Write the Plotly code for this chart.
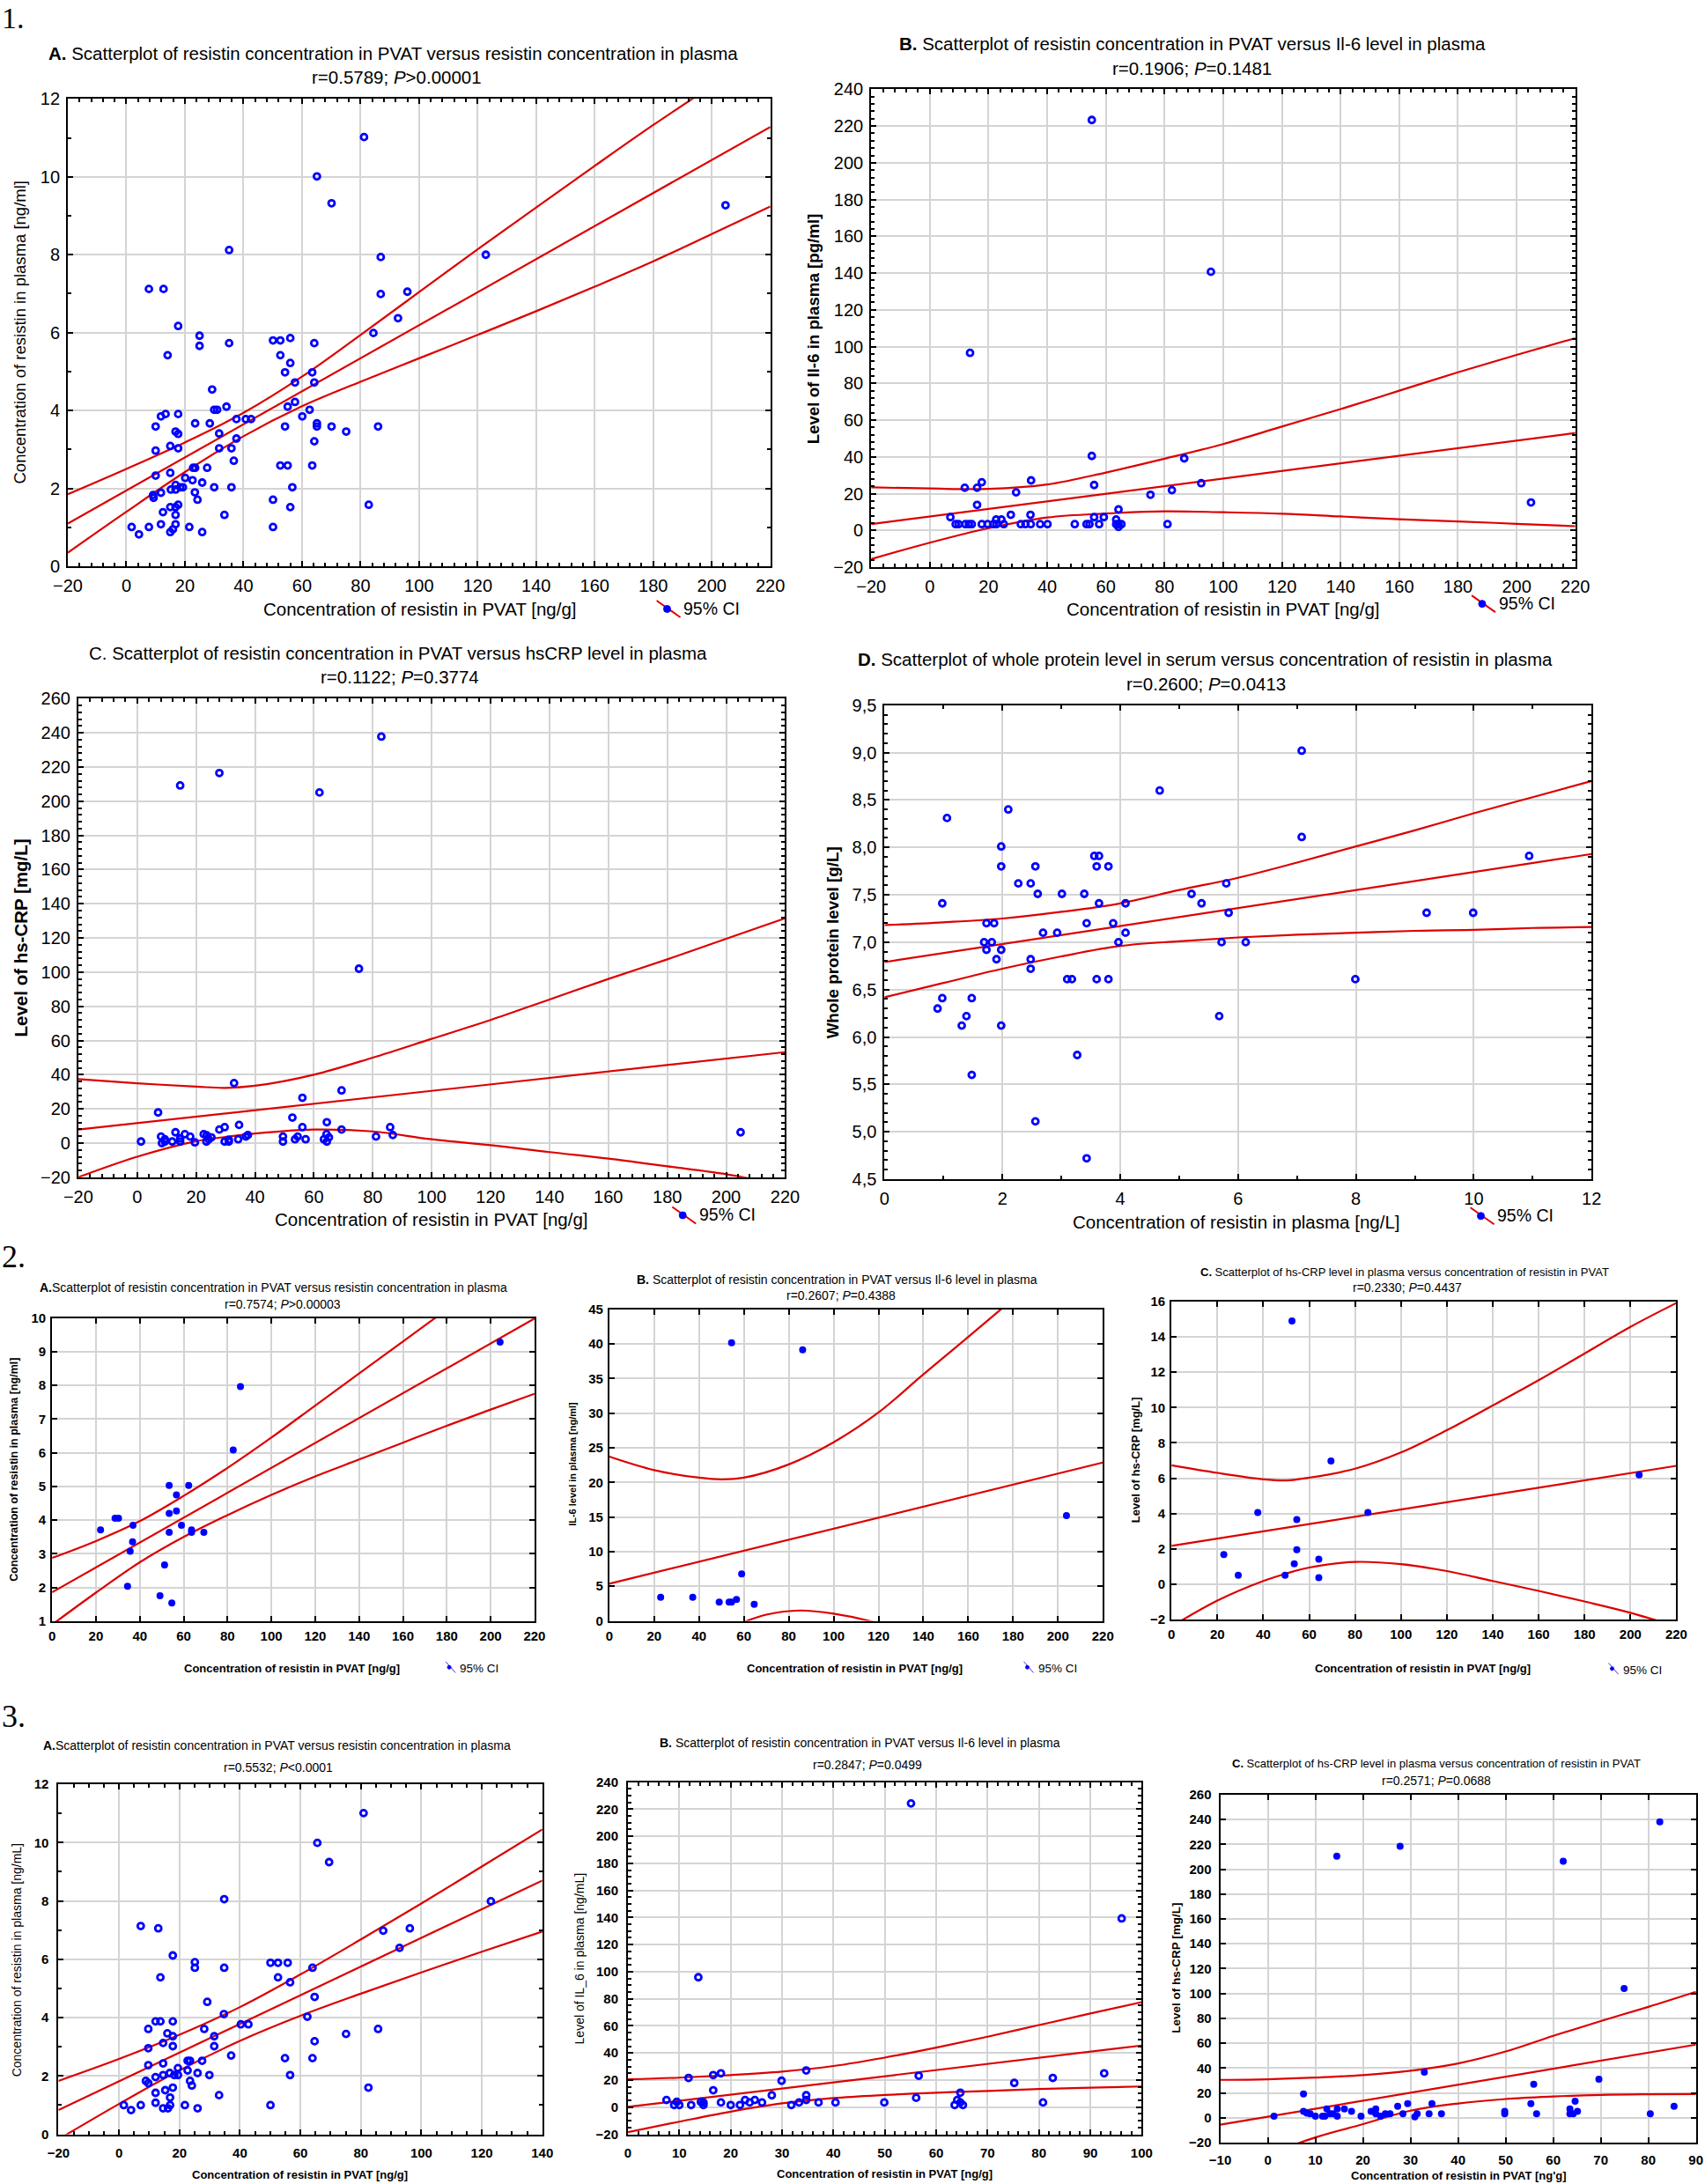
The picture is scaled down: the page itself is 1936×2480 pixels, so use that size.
import plotly.graph_objects as go

# ======================= DATA =======================
# ---- Figure 1A: resistin PVAT vs resistin plasma ----
p1a_x = [7.7,12.7,35.1,17.7,25.0,25.0,35.1,14.1,29.3,30.0,31.0,34.2,13.4,11.8,17.7,10.0,23.5,28.5,37.6,40.8,
         42.6,16.8,17.7,31.7,37.6,10.0,15.0,17.7,31.7,35.9,36.7,22.8,23.5,27.6,10.0,15.0,20.1,22.6,25.9,16.8,
         18.4,19.3,15.2,16.8,30.0,35.9,23.4,9.1,9.3,11.8,24.3,16.8,17.7,15.0,12.5,16.8,33.5,1.8,7.7,11.8,
         21.5,16.8,15.9,15.0,4.3,25.9,50.1,52.6,56.0,52.6,56.0,54.2,63.5,57.6,64.2,64.2,55.1,57.6,62.6,60.1,
         54.2,65.1,65.1,70.1,75.1,86.0,64.2,52.6,55.1,63.5,56.7,50.1,56.0,50.1,82.8,81.2,65.1,70.1,86.9,86.9,
         96.0,92.8,84.4,122.8,204.7]
p1a_y = [7.12,7.12,8.12,6.17,5.92,5.66,5.73,5.42,4.54,4.02,4.02,4.10,3.91,3.85,3.91,3.59,3.67,3.67,3.78,3.78,
         3.78,3.46,3.40,3.41,3.28,2.97,3.09,3.03,3.03,3.03,2.71,2.53,2.53,2.53,2.33,2.40,2.27,2.21,2.15,2.09,
         2.03,2.03,1.97,1.97,2.03,2.03,1.90,1.83,1.76,1.89,1.71,1.52,1.58,1.52,1.39,1.32,1.32,1.01,1.01,1.08,
         1.01,1.08,0.95,0.88,0.82,0.88,5.80,5.80,5.86,5.42,5.22,4.98,4.98,4.72,4.72,5.73,4.10,4.22,4.02,3.85,
         3.59,3.67,3.59,3.59,3.46,3.59,3.21,2.59,2.59,2.59,2.03,1.71,1.52,1.01,1.58,11.02,10.01,9.32,7.94,6.99,
         7.05,6.37,5.99,8.00,9.27]
p1a_fit_x = [-20, 220]
p1a_fit_y = [1.10, 11.28]
p1a_band_x = [-20, 0, 20, 40, 60, 80, 100, 120, 140, 160, 180, 200, 220]
p1a_upper = [1.85, 2.50, 3.18, 3.94, 4.87, 5.94, 7.04, 8.14, 9.21, 10.28, 11.33, 12.33, 13.32]
p1a_lower = [0.35, 1.40, 2.42, 3.34, 4.11, 4.74, 5.34, 5.94, 6.55, 7.18, 7.83, 8.53, 9.24]

# ---- Figure 1B: resistin PVAT vs IL-6 ----
p1b_x = [55.2,95.8,13.7,55.2,86.7,34.5,17.7,11.9,16.1,56.0,92.5,29.4,75.2,82.5,16.1,204.9,64.3,7.0,27.6,34.3,
         56.0,59.3,22.6,24.4,63.5,
         8.8,9.8,12.1,13.3,14.3,17.7,19.7,21.7,22.7,25.2,31.0,32.6,34.4,37.6,40.1,49.4,53.4,54.4,57.7,63.5,
         64.3,65.3,81.0,64.3]
p1b_y = [223.3,140.7,96.6,40.5,39.2,27.2,26.2,23.2,23.2,24.7,25.7,20.7,19.4,21.9,13.9,15.2,11.4,7.2,8.5,8.5,
         7.2,7.2,5.9,5.9,5.9,
         3.4,3.4,3.4,3.4,3.4,3.4,3.4,3.4,3.4,3.4,3.4,3.4,3.4,3.4,3.4,3.4,3.4,3.4,3.4,3.4,
         3.4,3.4,3.4,1.9]
p1b_fit_x = [-20, 220]
p1b_fit_y = [3.4, 53.0]
p1b_band_x = [-20, 0, 20, 40, 60, 80, 100, 120, 140, 160, 180, 200, 220]
p1b_upper = [23.4, 22.8, 22.6, 25.0, 31.5, 39.0, 47.0, 56.5, 66.0, 76.0, 86.0, 95.5, 104.6]
p1b_lower = [-15.6, -6.7, 1.2, 7.0, 9.2, 10.4, 9.9, 9.1, 7.6, 6.1, 4.9, 3.6, 2.3]

# ---- Figure 1C: resistin PVAT vs hs-CRP ----
p1c_x = [82.9,27.9,14.6,61.9,75.3,32.9,69.4,56.1,7.1,52.7,64.4,34.6,29.7,56.1,85.9,27.9,69.4,13.0,16.2,204.9,
         86.8,22.6,37.6,8.1,18.0,49.5,81.1,54.5,64.3,23.6,36.9,9.4,14.6,24.3,25.2,34.3,53.6,57.2,63.4,65.1,
         1.3,9.4,11.9,14.6,19.6,23.5,29.7,31.1,49.5,64.4,8.4,31.1]
p1c_y = [237.8,216.5,209.2,205.1,102.0,35.1,30.8,26.5,17.9,14.9,12.2,10.6,9.3,9.3,9.3,7.9,7.9,6.3,5.2,6.3,
         4.7,5.2,4.7,3.8,3.8,3.8,3.8,3.8,5.2,4.5,3.8,2.2,2.7,2.2,3.3,2.2,2.2,2.2,2.2,3.3,
         0.9,0.9,0.9,0.9,0.4,0.9,0.9,0.9,0.9,0.9,0.0,1.9]
p1c_fit_x = [-20, 220]
p1c_fit_y = [7.9, 53.2]
p1c_band_x = [-20, 0, 20, 30, 40, 60, 80, 100, 120, 140, 160, 180, 200, 220]
p1c_upper = [37.4, 35.0, 33.0, 32.3, 33.5, 40.0, 50.0, 61.0, 72.0, 84.0, 96.0, 107.5, 119.5, 131.5]
p1c_lower = [-20.0, -8.0, 1.1, 3.6, 5.6, 7.9, 6.8, 2.2, -1.2, -5.3, -9.1, -13.6, -18.2, -25.0]

# ---- Figure 1D: resistin plasma vs whole protein ----
p1d_x = [7.08,4.67,2.10,1.06,7.08,1.98,3.56,3.64,10.94,1.98,2.56,3.60,3.80,2.27,2.48,5.80,2.60,3.01,3.39,5.21,
         0.98,3.64,4.09,5.38,5.84,9.20,9.99,1.73,1.86,3.43,3.88,2.69,2.93,4.09,1.69,1.82,3.97,5.72,6.13,1.73,
         1.98,1.90,2.48,2.48,3.10,3.18,3.60,3.80,7.99,0.98,1.48,0.90,1.39,5.68,1.31,1.98,3.27,1.48,2.56,3.43]
p1d_y = [9.02,8.60,8.40,8.31,8.11,8.01,7.91,7.91,7.91,7.80,7.80,7.80,7.80,7.62,7.62,7.62,7.51,7.51,7.51,7.51,
         7.41,7.41,7.41,7.41,7.31,7.31,7.31,7.20,7.20,7.20,7.20,7.10,7.10,7.10,7.00,7.00,7.00,7.00,7.00,6.92,
         6.92,6.82,6.82,6.72,6.61,6.61,6.61,6.61,6.61,6.41,6.41,6.30,6.22,6.22,6.12,6.12,5.81,5.60,5.11,4.72]
p1d_fit_x = [0, 12]
p1d_fit_y = [6.79, 7.93]
p1d_band_x = [0, 1, 2, 3, 4, 5, 6, 7, 8, 9, 10, 11, 12]
p1d_upper = [7.18, 7.21, 7.25, 7.32, 7.41, 7.55, 7.68, 7.84, 8.01, 8.18, 8.36, 8.53, 8.70]
p1d_lower = [6.42, 6.57, 6.72, 6.85, 6.96, 7.01, 7.05, 7.08, 7.10, 7.12, 7.13, 7.15, 7.16]

# ---- Figure 2A ----
p2a_x = [22.1,28.7,30.3,36.9,36.7,35.6,34.4,49.2,51.3,54.6,53.4,62.3,56.7,53.4,56.7,53.4,59.0,63.6,63.6,69.2,
         82.6,85.9,204.3]
p2a_y = [3.71,4.06,4.06,3.85,3.36,3.08,2.04,1.76,2.67,1.54,5.03,5.03,4.75,4.20,4.27,3.64,3.85,3.71,3.64,3.64,
         6.08,7.96,9.28]
p2a_fit_x = [0, 220]
p2a_fit_y = [1.86, 9.98]
p2a_band_x = [0, 20, 40, 60, 80, 100, 120, 140, 160, 180, 200, 220]
p2a_upper = [2.88, 3.38, 3.97, 4.72, 5.55, 6.45, 7.40, 8.35, 9.30, 10.25, 11.20, 12.20]
p2a_lower = [0.90, 1.85, 2.75, 3.50, 4.15, 4.75, 5.30, 5.80, 6.30, 6.80, 7.28, 7.75]

# ---- Figure 2B ----
p2b_x = [54.5,86.2,203.8,59.0,22.9,37.2,49.0,53.4,54.5,56.7,64.6]
p2b_y = [40.18,39.16,15.21,6.78,3.41,3.41,2.72,2.72,2.72,3.09,2.40]
p2b_fit_x = [0, 220]
p2b_fit_y = [5.36, 22.87]
p2b_up_x = [0, 20, 40, 50, 60, 80, 100, 120, 140, 160, 180, 200, 220]
p2b_upper = [23.72, 21.77, 20.68, 20.44, 20.68, 22.6, 25.8, 30.1, 35.6, 41.0, 46.5, 52.0, 57.5]
p2b_lo_x = [0, 20, 40, 50, 61.4, 70, 85, 100, 115.8, 140, 180, 220]
p2b_lower = [-13.0, -7.9, -3.6, -1.6, 0.0, 0.9, 1.5, 1.05, 0.0, -2.6, -9.0, -16.0]

# ---- Figure 2C ----
p2c_x = [52.5,69.5,203.8,37.6,85.6,54.6,54.6,22.8,64.2,53.5,29.1,49.5,64.2]
p2c_y = [14.9,6.97,6.19,4.06,4.06,3.66,1.95,1.68,1.42,1.15,0.50,0.50,0.37]
p2c_fit_x = [0, 220]
p2c_fit_y = [2.17, 6.70]
p2c_band_x = [0, 20, 40, 50, 60, 80, 100, 120, 140, 160, 180, 200, 220]
p2c_upper = [6.73, 6.30, 5.94, 5.87, 6.03, 6.54, 7.46, 8.72, 10.12, 11.55, 13.06, 14.57, 15.92]
p2c_lower = [-2.4, -0.93, 0.18, 0.6, 0.94, 1.26, 1.13, 0.74, 0.18, -0.38, -0.98, -1.62, -2.4]

# ---- Figure 3A ----
p3a_x = [7.2,13.0,34.8,17.8,25.1,25.1,34.8,13.7,29.2,34.7,12.1,13.7,17.8,9.7,16.0,17.8,28.2,31.5,40.3,42.8,
         14.6,17.8,9.7,31.5,37.1,14.6,9.7,22.7,23.5,27.5,19.5,22.7,26.0,29.9,14.6,16.8,18.3,19.5,12.1,8.9,
         9.7,23.5,24.1,15.3,17.8,12.1,16.9,33.1,1.6,7.2,12.1,16.9,21.8,14.6,16.2,26.0,4.0,50.1,52.6,55.8,
         52.6,56.6,64.0,64.7,62.3,64.7,54.9,64.0,56.6,50.1,75.1,85.7,82.5,80.9,65.6,69.5,87.4,96.2,92.8,123.0]
p3a_y = [7.14,7.06,8.06,6.13,5.90,5.71,5.71,5.38,4.54,4.12,3.87,3.87,3.87,3.61,3.46,3.36,3.61,3.36,3.77,3.77,
         3.13,3.02,2.95,3.02,2.70,2.43,2.37,2.52,2.52,2.52,2.27,2.19,2.10,2.03,2.03,2.10,2.03,2.03,1.96,1.83,
         1.75,1.83,1.67,1.51,1.60,1.42,1.26,1.34,1.00,1.00,1.08,1.00,1.00,0.89,0.89,0.89,0.83,5.88,5.88,5.88,
         5.38,5.21,5.71,4.71,4.03,3.19,2.61,2.61,2.03,1.00,3.44,3.61,1.60,11.01,9.99,9.33,6.98,7.06,6.39,7.99]
p3a_fit_x = [-20, 140]
p3a_fit_y = [0.83, 8.70]
p3a_band_x = [-20, 0, 20, 40, 60, 80, 100, 120, 140]
p3a_upper = [1.83, 2.58, 3.41, 4.36, 5.48, 6.68, 7.91, 9.18, 10.45]
p3a_lower = [-0.17, 1.04, 2.19, 3.20, 4.06, 4.82, 5.55, 6.26, 6.95]

# ---- Figure 3B ----
p3b_x = [55.1,96.1,13.7,34.7,92.7,18.1,16.6,56.6,11.8,82.7,29.9,75.2,16.6,64.7,28.0,34.7,56.1,7.5,22.8,24.7,
         34.7,64.1,9.5,14.2,14.7,18.1,23.7,26.1,33.3,37.1,40.4,49.9,80.8,64.7,9.0,10.0,12.3,14.7,20.0,21.8,
         31.8,63.6,65.2]
p3b_y = [224.2,139.3,95.9,27.1,25.0,25.0,23.7,23.2,21.6,21.6,19.5,17.9,12.5,10.7,8.8,8.8,6.9,5.3,5.3,5.3,
         5.3,5.3,3.9,3.9,3.5,3.5,3.5,3.5,3.5,3.5,3.5,3.5,3.5,3.5,1.6,1.6,1.6,1.6,1.6,1.6,
         1.6,1.6,1.6]
p3b_fit_x = [0, 100]
p3b_fit_y = [0.2, 45.5]
p3b_band_x = [0, 10, 20, 30, 40, 50, 60, 70, 80, 90, 100]
p3b_upper = [20.6, 21.8, 23.7, 26.3, 30.4, 36.6, 44.0, 52.0, 60.6, 69.2, 77.5]
p3b_lower = [-18.4, -10.7, -3.3, 2.8, 6.7, 9.0, 10.7, 12.0, 13.4, 14.4, 15.3]

# ---- Figure 3C ----
p3c_x = [82.4,27.8,14.5,62.1,74.9,32.9,69.6,55.9,7.5,55.3,29.4,34.5,64.6,85.4,27.3,12.4,14.6,22.7,16.1,63.5,
         7.5,17.6,21.7,49.8,65.1,8.2,8.9,13.1,13.7,22.7,24.7,25.7,28.4,31.4,33.9,36.5,49.8,56.5,63.5,64.2,
         80.4,1.3,10.0,11.5,12.0,14.6,19.6,23.7,30.9]
p3c_y = [238.0,218.5,210.4,206.4,104.0,36.7,31.1,27.1,19.2,11.4,11.4,11.4,13.4,9.4,9.4,7.3,7.3,7.3,7.3,7.3,
         5.3,5.3,5.3,5.3,5.3,3.8,3.3,3.3,3.3,3.3,3.3,3.3,3.3,3.3,3.3,3.3,3.3,3.3,3.3,3.3,
         3.3,1.3,1.3,1.3,1.3,1.3,1.3,1.3,0.8]
p3c_fit_x = [-10, 90]
p3c_fit_y = [-5.5, 58.9]
p3c_band_x = [-10, 0, 10, 20, 30, 40, 50, 60, 70, 80, 90]
p3c_upper = [30.6, 31.1, 32.4, 34.4, 37.9, 43.8, 53.4, 66.0, 77.9, 89.3, 101.4]
p3c_lower = [-41.6, -29.2, -15.7, -5.0, 5.8, 11.6, 15.2, 17.2, 18.5, 19.0, 19.2]

# tick labels for panel 1D (comma decimals)
p1d_yticks = [4.5, 5.0, 5.5, 6.0, 6.5, 7.0, 7.5, 8.0, 8.5, 9.0, 9.5]
p1d_yticktext = ["4,5", "5,0", "5,5", "6,0", "6,5", "7,0", "7,5", "8,0", "8,5", "9,0", "9,5"]

for a, b in [(p1a_x, p1a_y), (p1b_x, p1b_y), (p1c_x, p1c_y), (p1d_x, p1d_y), (p2a_x, p2a_y),
             (p2b_x, p2b_y), (p2c_x, p2c_y), (p3a_x, p3a_y), (p3b_x, p3b_y), (p3c_x, p3c_y)]:
    assert len(a) == len(b)

# ======================= LAYOUT HELPERS =======================
W, H = 1936, 2480
SW, SH = 1224, 1568          # layout measured in the 1224x1568 preview
SANS = "Liberation Sans, Arial, sans-serif"
SERIF = "Liberation Serif, Times New Roman, serif"
BLUE = "#0000ff"
RED = "#dc0000"
GRID = "#d4d4d4"

def fx(x):
    return x / SW

def fy(y):
    return 1 - y / SH

fig = go.Figure()
annotations = []
shapes = []

def ann(text, x, y, size, family=SANS, xanchor="center", yanchor="middle", angle=0, weight="normal"):
    annotations.append(dict(text=text, x=fx(x), y=fy(y), xref="paper", yref="paper", showarrow=False,
                            xanchor=xanchor, yanchor=yanchor, textangle=angle,
                            font=dict(family=family, size=size, color="black", weight=weight)))

panels = [
    dict(n=1, box=(48.7, 553, 71, 406.6), xr=[-20, 220], xd=20, xm=4, yr=[0, 12], yd=2, ym=1,
         x=p1a_x, y=p1a_y, fx_=p1a_fit_x, fy_=p1a_fit_y, ux=p1a_band_x, uy=p1a_upper, lx=p1a_band_x, ly=p1a_lower,
         open=True, tick=20, tickw="normal", so=3),
    dict(n=2, box=(625.4, 1130.9, 64.1, 407.2), xr=[-20, 220], xd=20, xm=4, yr=[-20, 240], yd=20, ym=4,
         x=p1b_x, y=p1b_y, fx_=p1b_fit_x, fy_=p1b_fit_y, ux=p1b_band_x, uy=p1b_upper, lx=p1b_band_x, ly=p1b_lower,
         open=True, tick=20, tickw="normal", so=3),
    dict(n=3, box=(56.2, 563.6, 501.6, 845.2), xr=[-20, 220], xd=20, xm=4, yr=[-20, 260], yd=20, ym=4,
         x=p1c_x, y=p1c_y, fx_=p1c_fit_x, fy_=p1c_fit_y, ux=p1c_band_x, uy=p1c_upper, lx=p1c_band_x, ly=p1c_lower,
         open=True, tick=20, tickw="normal", so=3),
    dict(n=4, box=(635, 1142.6, 506.3, 846.6), xr=[0, 12], xd=2, xm=1, yr=[4.5, 9.5], yd=0.5, ym=0.1,
         x=p1d_x, y=p1d_y, fx_=p1d_fit_x, fy_=p1d_fit_y, ux=p1d_band_x, uy=p1d_upper, lx=p1d_band_x, ly=p1d_lower,
         open=True, tick=20, tickw="normal", so=3, ytv=p1d_yticks, ytt=p1d_yticktext),
    dict(n=5, box=(37.4, 383.7, 946.2, 1164), xr=[0, 220], xd=20, xm=None, yr=[1, 10], yd=1, ym=None,
         x=p2a_x, y=p2a_y, fx_=p2a_fit_x, fy_=p2a_fit_y, ux=p2a_band_x, uy=p2a_upper, lx=p2a_band_x, ly=p2a_lower,
         open=False, tick=15, tickw="bold", so=2),
    dict(n=6, box=(437.4, 791.7, 940, 1163.7), xr=[0, 220], xd=20, xm=None, yr=[0, 45], yd=5, ym=None,
         x=p2b_x, y=p2b_y, fx_=p2b_fit_x, fy_=p2b_fit_y, ux=p2b_up_x, uy=p2b_upper, lx=p2b_lo_x, ly=p2b_lower,
         open=False, tick=15, tickw="bold", so=2),
    dict(n=7, box=(841, 1203.4, 934.5, 1162.7), xr=[0, 220], xd=20, xm=None, yr=[-2, 16], yd=2, ym=None,
         x=p2c_x, y=p2c_y, fx_=p2c_fit_x, fy_=p2c_fit_y, ux=p2c_band_x, uy=p2c_upper, lx=p2c_band_x, ly=p2c_lower,
         open=False, tick=15, tickw="bold", so=2),
    dict(n=8, box=(42, 389.3, 1281, 1532.3), xr=[-20, 140], xd=20, xm=5, yr=[0, 12], yd=2, ym=1,
         x=p3a_x, y=p3a_y, fx_=p3a_fit_x, fy_=p3a_fit_y, ux=p3a_band_x, uy=p3a_upper, lx=p3a_band_x, ly=p3a_lower,
         open=True, tick=15, tickw="bold", so=6),
    dict(n=9, box=(450.8, 819.6, 1279.4, 1532.3), xr=[0, 100], xd=10, xm=2, yr=[-20, 240], yd=20, ym=5,
         x=p3b_x, y=p3b_y, fx_=p3b_fit_x, fy_=p3b_fit_y, ux=p3b_band_x, uy=p3b_upper, lx=p3b_band_x, ly=p3b_lower,
         open=True, tick=15, tickw="bold", so=6),
    dict(n=10, box=(876, 1217.5, 1288.4, 1538.4), xr=[-10, 90], xd=10, xm=None, yr=[-20, 260], yd=20, ym=None,
         x=p3c_x, y=p3c_y, fx_=p3c_fit_x, fy_=p3c_fit_y, ux=p3c_band_x, uy=p3c_upper, lx=p3c_band_x, ly=p3c_lower,
         open=False, tick=15, tickw="bold", so=5),
]

layout_axes = {}
for p in panels:
    n = p["n"]
    xa = "x" if n == 1 else f"x{n}"
    ya = "y" if n == 1 else f"y{n}"
    l, r, t, b = p["box"]
    common = dict(showgrid=True, gridcolor=GRID, gridwidth=2, showline=True, linecolor="black", linewidth=2,
                  mirror="allticks", ticks="inside", ticklen=6, tickwidth=2, tickcolor="black", zeroline=False,
                  automargin=False, ticklabeloverflow="allow",
                  tickfont=dict(family=SANS, size=p["tick"], color="black", weight=p["tickw"]),
                  ticklabelstandoff=p["so"])
    xd = dict(common, domain=[fx(l), fx(r)], range=p["xr"], dtick=p["xd"], tick0=p["xr"][0], anchor=ya)
    yd = dict(common, domain=[fy(b), fy(t)], range=p["yr"], dtick=p["yd"], tick0=p["yr"][0], anchor=xa)
    if p["xm"]:
        xd["minor"] = dict(dtick=p["xm"], ticks="inside", ticklen=4, tickwidth=1.5, tickcolor="black", showgrid=False)
    if p["ym"]:
        yd["minor"] = dict(dtick=p["ym"], ticks="inside", ticklen=4, tickwidth=1.5, tickcolor="black", showgrid=False)
    if "ytv" in p:
        yd["tickmode"] = "array"
        yd["tickvals"] = p["ytv"]
        yd["ticktext"] = p["ytt"]
    layout_axes["xaxis" if n == 1 else f"xaxis{n}"] = xd
    layout_axes["yaxis" if n == 1 else f"yaxis{n}"] = yd

    # regression line and 95% CI band
    for bx, by in [(p["ux"], p["uy"]), (p["lx"], p["ly"])]:
        fig.add_trace(go.Scatter(x=bx, y=by, mode="lines", line=dict(color=RED, width=2.2, shape="spline"),
                                 xaxis=xa, yaxis=ya, showlegend=False, hoverinfo="skip"))
    fig.add_trace(go.Scatter(x=p["fx_"], y=p["fy_"], mode="lines", line=dict(color=RED, width=2.2),
                             xaxis=xa, yaxis=ya, showlegend=False, hoverinfo="skip"))
    if p["open"]:
        marker = dict(symbol="circle-open", size=7, color=BLUE, line=dict(color=BLUE, width=2.8))
    else:
        marker = dict(symbol="circle", size=8, color=BLUE, line=dict(width=0))
    fig.add_trace(go.Scatter(x=p["x"], y=p["y"], mode="markers", marker=marker,
                             xaxis=xa, yaxis=ya, showlegend=False))

# ======================= TEXT =======================
# section numbers
ann("1.", 0, 0, 34, SERIF, xanchor="left", yanchor="top")
ann("2.", 0, 902, 36, SERIF, xanchor="left")
ann("3.", 0, 1232, 36, SERIF, xanchor="left")

# panel titles
T1 = 20.5
ann("<b>A.</b> Scatterplot of resistin concentration in PVAT versus resistin concentration in plasma", 282, 38, T1)
ann("r=0.5789; <i>P</i>&gt;0.00001", 285, 55.3, T1)
ann("<b>B.</b> Scatterplot of resistin concentration in PVAT versus Il-6 level in plasma", 856, 31.3, T1)
ann("r=0.1906; <i>P</i>=0.1481", 856, 48.8, T1)
ann("C. Scatterplot of resistin concentration in PVAT versus hsCRP level in plasma", 286, 468.7, T1)
ann("r=0.1122; <i>P</i>=0.3774", 287, 486, T1)
ann("<b>D.</b> Scatterplot of whole protein level in serum versus concentration of resistin in plasma", 865, 473.5, T1)
ann("r=0.2600; <i>P</i>=0.0413", 866, 491, T1)

ann("<b>A.</b>Scatterplot of resistin concentration in PVAT versus resistin concentration in plasma", 196.4, 924.4, 14)
ann("r=0.7574; <i>P</i>&gt;0.00003", 203, 936.1, 14)
ann("<b>B.</b> Scatterplot of resistin concentration in PVAT versus Il-6 level in plasma", 601, 918.4, 14)
ann("r=0.2607; <i>P</i>=0.4388", 604, 929.9, 14)
ann("<b>C.</b> Scatterplot of hs-CRP level in plasma versus concentration of resistin in PVAT", 1008.7, 913, 13)
ann("r=0.2330; <i>P</i>=0.4437", 1010, 924.4, 14)

ann("<b>A.</b>Scatterplot of resistin concentration in PVAT versus resistin concentration in plasma", 199, 1253, 14)
ann("r=0.5532; <i>P</i>&lt;0.0001", 200, 1268.8, 14)
ann("<b>B.</b> Scatterplot of resistin concentration in PVAT versus Il-6 level in plasma", 617.4, 1251.2, 14)
ann("r=0.2847; <i>P</i>=0.0499", 623, 1267, 14)
ann("<b>C.</b> Scatterplot of hs-CRP level in plasma versus concentration of resistin in PVAT", 1031.4, 1266, 13)
ann("r=0.2571; <i>P</i>=0.0688", 1031, 1278.2, 14)

# x-axis titles
ann("Concentration of resistin in PVAT [ng/g]", 301.5, 437, 20.5)
ann("Concentration of resistin in PVAT [ng/g]", 878, 437.5, 20.5)
ann("Concentration of resistin in PVAT [ng/g]", 310, 875.5, 20.5)
ann("Concentration of resistin in plasma [ng/L]", 887.5, 877, 20.5)
ann("Concentration of resistin in PVAT [ng/g]", 209.6, 1198, 13, weight="bold")
ann("Concentration of resistin in PVAT [ng/g]", 613.7, 1198, 13, weight="bold")
ann("Concentration of resistin in PVAT [ng/g]", 1021.6, 1198, 13, weight="bold")
ann("Concentration of resistin in PVAT [ng/g]", 215, 1561.6, 13, weight="bold")
ann("Concentration of resistin in PVAT [ng/g]", 634.8, 1561, 13, weight="bold")
ann("Concentration of resistin in PVAT [ng'g]", 1047.3, 1562.3, 13, weight="bold")

# y-axis titles
ann("Concentration of resistin in plasma [ng/ml]", 14.2, 238.4, 18.5, angle=-90)
ann("Level of Il-6 in plasma [pg/ml]", 583.6, 236, 18.7, angle=-90, weight="bold")
ann("Level of hs-CRP [mg/L]", 15, 673.2, 20.5, angle=-90, weight="bold")
ann("Whole protein level [g/L]", 597.5, 676.7, 18.8, angle=-90, weight="bold")
ann("Concentration of resistin in plasma [ng/ml]", 10.3, 1054.9, 12.5, angle=-90, weight="bold")
ann("IL-6 level in plasma [ng/ml]", 411, 1051.3, 11, angle=-90, weight="bold")
ann("Level of hs-CRP [mg/L]", 815, 1048.4, 13, angle=-90, weight="bold")
ann("Concentration of resistin in plasma [ng/mL]", 12, 1407, 14, angle=-90)
ann("Level of IL_6 in plasma [ng/mL]", 416, 1405.8, 14, angle=-90)
ann("Level of hs-CRP [mg/L]", 844.6, 1413, 13.5, angle=-90, weight="bold")

# "95% CI" legend keys
def legend_key(tx, ty, size, big):
    if big:
        x0, y0, x1, y1, r, lw, lc = tx - 18, ty - 5.5, tx - 1, ty + 6.5, 4.0, 2, RED
    else:
        x0, y0, x1, y1, r, lw, lc = tx - 9, ty - 5, tx - 2, ty + 3, 2.0, 1, "#5a2ad0"
    shapes.append(dict(type="line", xref="paper", yref="paper", x0=fx(x0), y0=fy(y0), x1=fx(x1), y1=fy(y1),
                       line=dict(color=lc, width=lw)))
    cx, cy = fx((x0 + x1) / 2 - 1) * W, fy((y0 + y1) / 2) * H
    shapes.append(dict(type="circle", xref="paper", yref="paper", x0=(cx - r) / W, x1=(cx + r) / W,
                       y0=(cy - r) / H, y1=(cy + r) / H, fillcolor=BLUE, line=dict(color=BLUE, width=1)))
    ann("95% CI", tx, ty, size, xanchor="left")

legend_key(489.4, 436.7, 19.5, True)
legend_key(1074.5, 433, 19.5, True)
legend_key(500.6, 872, 19.5, True)
legend_key(1073.6, 872.5, 19.5, True)
legend_key(329, 1198, 13.5, False)
legend_key(744, 1198, 13.5, False)
legend_key(1163.8, 1199, 13.5, False)

fig.update_layout(template="none", width=W, height=H, margin=dict(l=0, r=0, t=0, b=0, pad=0),
                  paper_bgcolor="white", plot_bgcolor="white", showlegend=False,
                  annotations=annotations, shapes=shapes, **layout_axes)

# remove the browser's default 8px page margin so the figure sits at the window's origin
fig.write_html("out.html", config={"displayModeBar": False},
               post_script="document.body.style.margin='0px';")
